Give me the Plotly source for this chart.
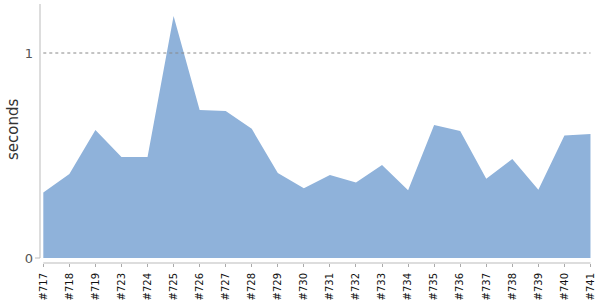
import plotly.graph_objects as go

builds = ["#717", "#718", "#719", "#723", "#724", "#725", "#726", "#727", "#728", "#729", "#730",
          "#731", "#732", "#733", "#734", "#735", "#736", "#737", "#738", "#739", "#740", "#741"]
seconds = [0.320, 0.410, 0.624, 0.493, 0.493, 1.180, 0.722, 0.717, 0.630, 0.415, 0.340,
           0.405, 0.368, 0.454, 0.330, 0.649, 0.620, 0.387, 0.483, 0.333, 0.597, 0.605]

xs = list(range(len(builds)))

fig = go.Figure()
fig.add_trace(go.Scatter(
    x=xs, y=seconds, mode="lines", fill="tozeroy",
    line=dict(width=0, color="#8fb2da"), fillcolor="#8fb2da",
    hoverinfo="skip", showlegend=False,
))

W, H = 600, 300
l, r, t, b = 40, 9, 4, 37
pw = W - l - r
ph = H - t - b

fig.update_layout(
    width=W, height=H,
    margin=dict(l=l, r=r, t=t, b=b, autoexpand=False),
    paper_bgcolor="white", plot_bgcolor="white",
    font=dict(family="DejaVu Sans", color="#444"),
    xaxis=dict(
        range=[-0.127, 21.02], tickmode="array", tickvals=xs, ticktext=builds,
        tickangle=-90, tickfont=dict(size=10, color="#111", family="DejaVu Sans"),
        ticks="outside", ticklen=3, tickcolor="#aaa", showgrid=False, zeroline=False,
        showline=False, fixedrange=True, ticklabelstandoff=2, automargin=False,
    ),
    yaxis=dict(
        range=[-0.0244, 1.239], tickmode="array", tickvals=[0, 1], ticktext=["0", "1"],
        tickfont=dict(size=13, color="#555"), ticks="", showgrid=False, zeroline=False,
        showline=False, ticklabelstandoff=6, automargin=False,
    ),
    annotations=[
        dict(text="seconds", textangle=-90, xref="paper", yref="paper",
             x=(13 - l) / pw, y=(H - b - 130) / ph, xanchor="center", yanchor="middle",
             showarrow=False, font=dict(size=15, color="#333")),
    ],
    shapes=[
        dict(type="line", xref="paper", yref="y", x0=0, x1=0, y0=0, y1=1.239,
             line=dict(color="#bbb", width=1)),
        dict(type="line", xref="paper", yref="y", x0=-5 / pw, x1=0, y0=0, y1=0,
             line=dict(color="#bbb", width=1)),
        dict(type="line", xref="x", yref="paper", x0=0, x1=21, y0=0, y1=0,
             line=dict(color="#bbb", width=1)),
        dict(type="line", xref="x", yref="y", x0=0, x1=21, y0=1, y1=1, layer="above",
             line=dict(color="#888", width=1, dash="dot")),
    ],
)

fig.write_html("out.html")
